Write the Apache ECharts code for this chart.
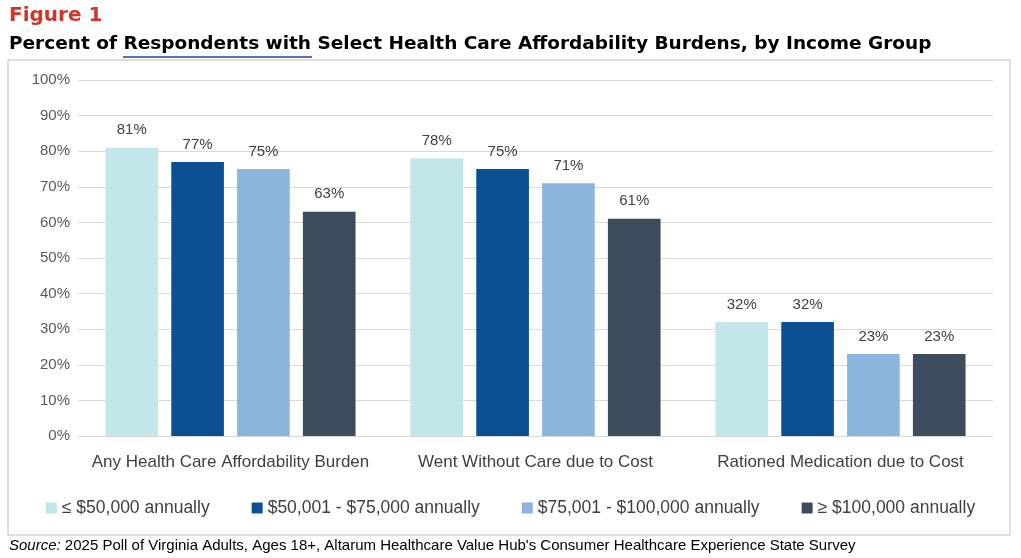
<!DOCTYPE html>
<html>
<head>
<meta charset="utf-8">
<script src="https://cdn.jsdelivr.net/npm/echarts@6/dist/echarts.min.js"></script>
<style>
  html, body { margin: 0; padding: 0; background: #fff; }
  #chart { width: 1021px; height: 558px; }
</style>
</head>
<body>
<div id="chart"></div>
<script>
const categories = [
  "Any Health Care Affordability Burden",
  "Went Without Care due to Cost",
  "Rationed Medication due to Cost",
];
const seriesNames = [
  "≤ $50,000 annually",
  "$50,001 - $75,000 annually",
  "$75,001 - $100,000 annually",
  "≥ $100,000 annually",
];
const under50k = [81, 78, 32];
const from50to75k = [77, 75, 32];
const from75to100k = [75, 71, 23];
const over100k = [63, 61, 23];
const yTicks = [0, 10, 20, 30, 40, 50, 60, 70, 80, 90, 100];

const colors = ["#c3e6ea", "#0b5093", "#8cb5de", "#3c4c5c"];
const values = [under50k, from50to75k, from75to100k, over100k];
const font = "Liberation Sans";
const titleFont = "DejaVu Sans";

const chart = echarts.init(document.getElementById("chart"));
chart.setOption({
  animation: false,
  textStyle: { fontFamily: font },
  graphic: [
    { type: "text", left: 9, top: 6, style: { text: "Figure 1", fill: "#d2342a", font: "bold 20px " + titleFont } },
    { type: "text", left: 9, top: 35, style: { text: "Percent of Respondents with Select Health Care Affordability Burdens, by Income Group", fill: "#000", font: "bold 18.5px " + titleFont } },
    { type: "line", shape: { x1: 123, y1: 57, x2: 312, y2: 57 }, style: { stroke: "#1f3fa8", lineWidth: 1.5 } },
    { type: "rect", shape: { x: 8, y: 60, width: 1002, height: 475 }, style: { fill: "none", stroke: "#bfbfbf", lineWidth: 1 } },
    { type: "text", left: 9, top: 538, style: { text: "{i|Source:} 2025 Poll of Virginia Adults, Ages 18+, Altarum Healthcare Value Hub's Consumer Healthcare Experience State Survey", fill: "#000", font: "15px " + font, rich: { i: { fontStyle: "italic", fontSize: 15, fontFamily: font } } } },
  ],
  legend: {
    bottom: 36,
    left: "center",
    itemWidth: 11,
    itemHeight: 11,
    itemGap: 42,
    icon: "rect",
    textStyle: { fontSize: 17.5, color: "#404040" },
    data: seriesNames,
  },
  grid: { left: 78, right: 28, top: 80, bottom: 122 },
  xAxis: {
    type: "category",
    data: categories,
    axisTick: { show: false },
    axisLine: { lineStyle: { color: "#d9d9d9" } },
    axisLabel: { fontSize: 17, color: "#404040", margin: 18, interval: 0 },
  },
  yAxis: {
    type: "value",
    min: 0,
    max: 100,
    interval: 10,
    axisLabel: { fontSize: 15, color: "#595959", formatter: (v) => (yTicks.includes(v) ? v + "%" : "") },
    splitLine: { lineStyle: { color: "#d9d9d9" } },
  },
  series: seriesNames.map((name, i) => ({
    name,
    type: "bar",
    data: values[i],
    barGap: "25%",
    barCategoryGap: "18%",
    itemStyle: { color: colors[i] },
    label: { show: true, position: "top", distance: 10, formatter: "{c}%", fontSize: 15, color: "#404040" },
  })),
});
</script>
</body>
</html>
